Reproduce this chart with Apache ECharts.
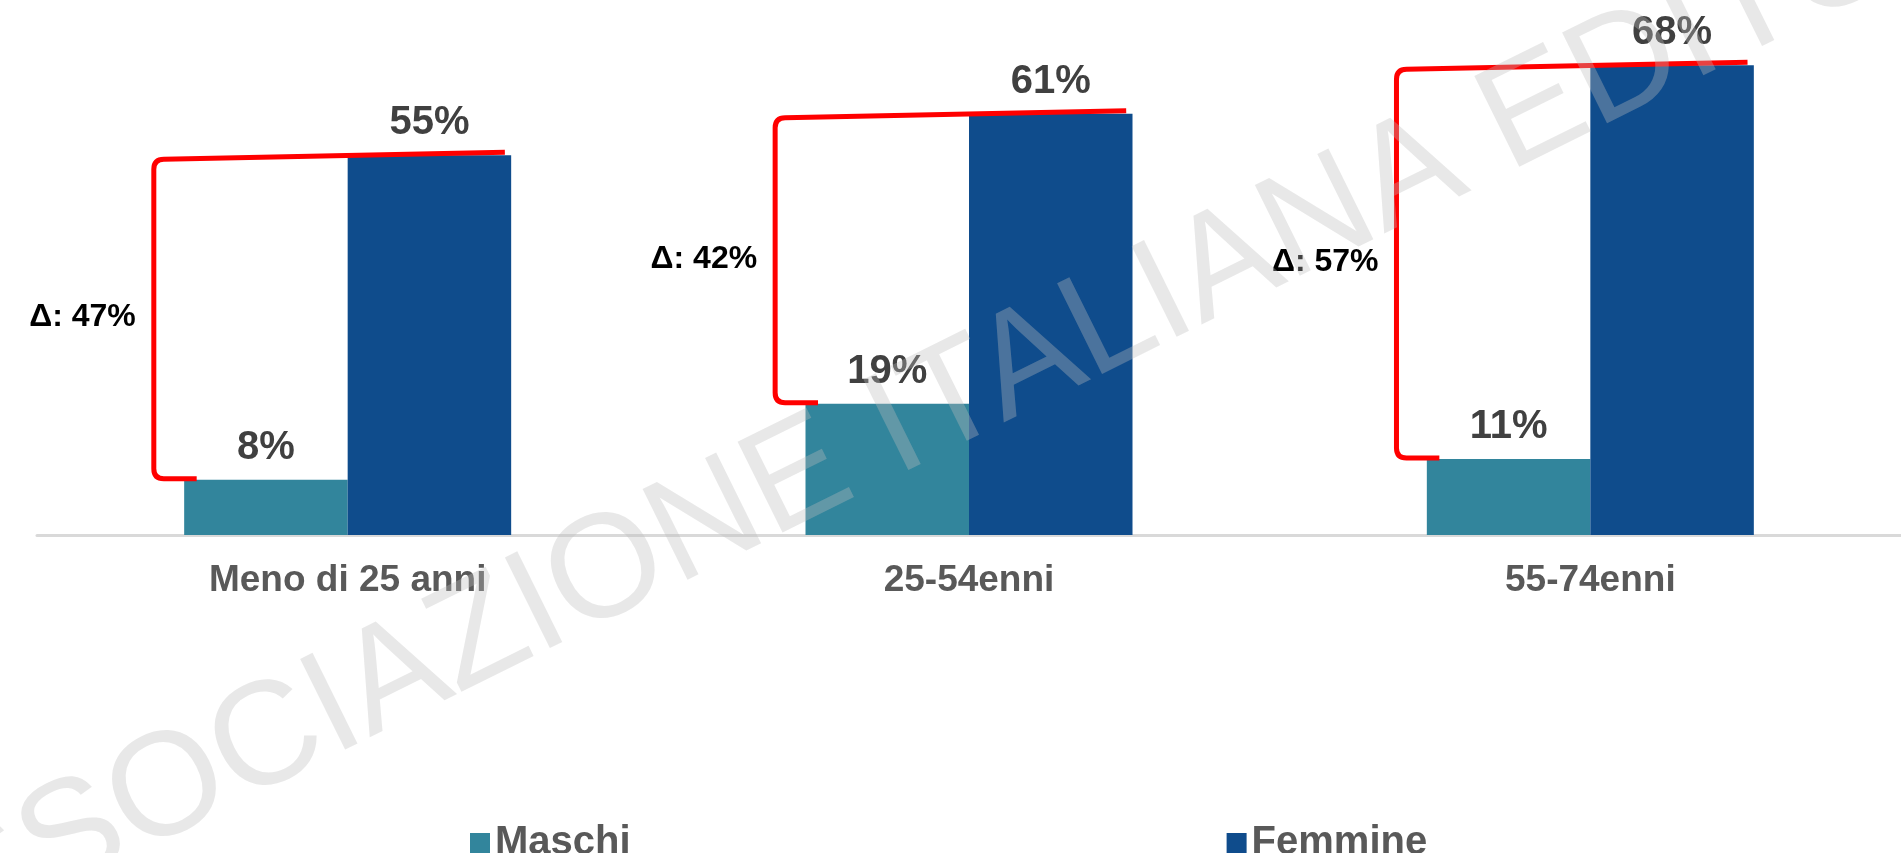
<!DOCTYPE html>
<html>
<head>
<meta charset="utf-8">
<script src="https://cdn.jsdelivr.net/npm/echarts@6/dist/echarts.min.js"></script>
<style>
  html, body { margin: 0; padding: 0; background: #fff; }
  #chart { width: 1901px; height: 853px; }
</style>
</head>
<body>
<div id="chart"></div>
<script>
var categories = ['Meno di 25 anni', '25-54enni', '55-74enni'];
var maschi = [8, 19, 11];
var femmine = [55, 61, 68];

var bracketData = categories.map(function (c, i) {
    return [i, maschi[i], femmine[i]];
});

var myChart = echarts.init(document.getElementById('chart'));

// parentesi rossa + etichetta delta per ogni gruppo
function renderBracket(params, api) {
    var idx = api.value(0);
    var m = api.value(1);
    var f = api.value(2);
    var c = api.coord([idx, 0])[0];
    var band = api.size([1, 0])[0];
    var yTop = api.coord([idx, f])[1];
    var yBot = api.coord([idx, m])[1];
    var xv = c - 0.312 * band;
    var xr = c + 0.253 * band;
    var xb = c - 0.243 * band;
    var r = 10;
    var yb = yBot - 1;
    var yt = yTop + 4;
    var d = 'M' + xb + ' ' + yb +
        ' L' + (xv + r) + ' ' + yb +
        ' Q' + xv + ' ' + yb + ' ' + xv + ' ' + (yb - r) +
        ' L' + xv + ' ' + (yt + r) +
        ' Q' + xv + ' ' + yt + ' ' + (xv + r) + ' ' + yt +
        ' L' + xr + ' ' + (yTop - 3);
    return {
        type: 'group',
        children: [{
            type: 'path',
            shape: { pathData: d },
            style: { stroke: '#FF0000', lineWidth: 5, fill: null }
        }, {
            type: 'text',
            style: {
                text: '\u0394: ' + (f - m) + '%',
                x: xv - 18,
                y: (yTop + yBot) / 2,
                align: 'right',
                verticalAlign: 'middle',
                textAlign: 'right',
                textVerticalAlign: 'middle',
                font: 'bold 32px "Liberation Sans", Arial, sans-serif',
                fill: '#000000'
            }
        }]
    };
}

var labelStyle = {
    show: true,
    position: 'top',
    distance: 12,
    fontSize: 40,
    fontWeight: 'bold',
    fontFamily: '"Liberation Sans", Arial, sans-serif',
    color: '#404040',
    formatter: '{c}%'
};

var option = {
    animation: false,
    backgroundColor: '#ffffff',
    grid: { left: 37, right: -11, top: 17, bottom: 318 },
    legend: {
        data: ['Maschi', 'Femmine'],
        left: 465,
        top: 818,
        icon: 'rect',
        itemWidth: 20,
        itemHeight: 20,
        itemGap: 596,
        textStyle: {
            fontSize: 40,
            fontWeight: 'bold',
            fontFamily: '"Liberation Sans", Arial, sans-serif',
            color: '#595959'
        }
    },
    xAxis: {
        type: 'category',
        data: categories,
        axisLine: { lineStyle: { color: '#D9D9D9', width: 3 } },
        axisTick: { show: false },
        axisLabel: {
            margin: 27,
            fontSize: 37,
            fontWeight: 'bold',
            fontFamily: '"Liberation Sans", Arial, sans-serif',
            color: '#595959'
        }
    },
    yAxis: {
        type: 'value',
        min: 0,
        max: 75,
        show: false,
        splitLine: { show: false }
    },
    graphic: [{
        type: 'text',
        x: 938,
        y: 410,
        rotation: 26.4 * Math.PI / 180,
        z: 100,
        silent: true,
        style: {
            text: 'ASSOCIAZIONE ITALIANA EDITORI',
            font: '147px "Liberation Sans", Arial, sans-serif',
            fill: 'rgba(190,190,190,0.35)',
            align: 'center',
            verticalAlign: 'middle',
            textAlign: 'center',
            textVerticalAlign: 'middle'
        }
    }],
    series: [{
        name: 'Maschi',
        type: 'bar',
        data: maschi,
        barWidth: 163.5,
        barGap: '0%',
        itemStyle: { color: '#32859C' },
        label: labelStyle
    }, {
        name: 'Femmine',
        type: 'bar',
        data: femmine,
        barWidth: 163.5,
        barGap: '0%',
        itemStyle: { color: '#0F4C8C' },
        label: labelStyle
    }, {
        name: 'delta',
        type: 'custom',
        coordinateSystem: 'cartesian2d',
        data: bracketData,
        encode: { x: 0, y: [1, 2] },
        renderItem: renderBracket,
        z: 5,
        silent: true
    }]
};

myChart.setOption(option);
</script>
</body>
</html>
